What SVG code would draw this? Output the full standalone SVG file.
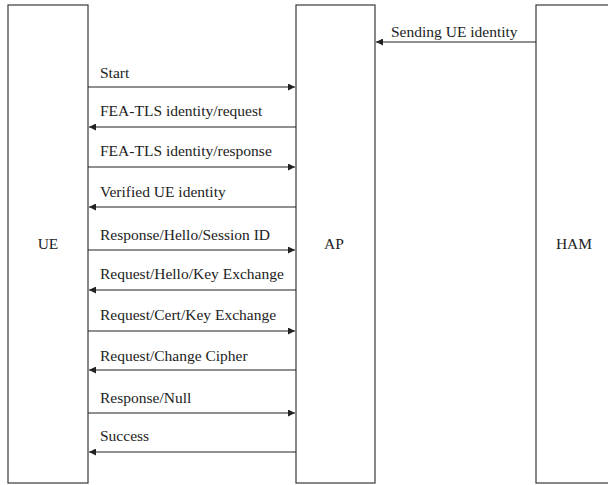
<svg xmlns="http://www.w3.org/2000/svg" width="608" height="485" viewBox="0 0 608 485">
<style>
.box{fill:#fff;stroke:#3a3a3a;stroke-width:1.2}
.ln{stroke:#222;stroke-width:1.2;fill:none}
text{font-family:"Liberation Serif","DejaVu Serif",serif;font-size:15.5px;fill:#222}
.c{text-anchor:middle}
</style>
<defs>
<marker id="ah" viewBox="0 0 10 10" refX="10" refY="5" markerWidth="8" markerHeight="7" markerUnits="userSpaceOnUse" orient="auto">
<path d="M0,0 L10,5 L0,10 Z" fill="#222"/>
</marker>
</defs>
<g id="ue"><rect class="box" x="8" y="5" width="80" height="478"/><text class="c" x="48" y="249">UE</text></g>
<g id="ap"><rect class="box" x="296" y="5" width="79" height="478"/><text class="c" x="334" y="249">AP</text></g>
<g id="ham"><rect class="box" x="536" y="5" width="80" height="478"/><text class="c" x="574" y="249">HAM</text></g>
<g id="connectors">
<line class="ln" x1="536" y1="42" x2="376" y2="42" marker-end="url(#ah)"/>
<text x="391" y="37">Sending UE identity</text>
<line class="ln" x1="88" y1="87" x2="295" y2="87" marker-end="url(#ah)"/>
<text x="100" y="78">Start</text>
<line class="ln" x1="296" y1="127" x2="89" y2="127" marker-end="url(#ah)"/>
<text x="100" y="116">FEA-TLS identity/request</text>
<line class="ln" x1="88" y1="167" x2="295" y2="167" marker-end="url(#ah)"/>
<text x="100" y="156">FEA-TLS identity/response</text>
<line class="ln" x1="296" y1="207" x2="89" y2="207" marker-end="url(#ah)"/>
<text x="100" y="197">Verified UE identity</text>
<line class="ln" x1="88" y1="250" x2="295" y2="250" marker-end="url(#ah)"/>
<text x="100" y="240">Response/Hello/Session ID</text>
<line class="ln" x1="296" y1="290" x2="89" y2="290" marker-end="url(#ah)"/>
<text x="100" y="279">Request/Hello/Key Exchange</text>
<line class="ln" x1="88" y1="331" x2="295" y2="331" marker-end="url(#ah)"/>
<text x="100" y="320">Request/Cert/Key Exchange</text>
<line class="ln" x1="296" y1="370" x2="89" y2="370" marker-end="url(#ah)"/>
<text x="100" y="361">Request/Change Cipher</text>
<line class="ln" x1="88" y1="413" x2="295" y2="413" marker-end="url(#ah)"/>
<text x="100" y="403">Response/Null</text>
<line class="ln" x1="296" y1="452" x2="89" y2="452" marker-end="url(#ah)"/>
<text x="100" y="441">Success</text>
</g>
</svg>
